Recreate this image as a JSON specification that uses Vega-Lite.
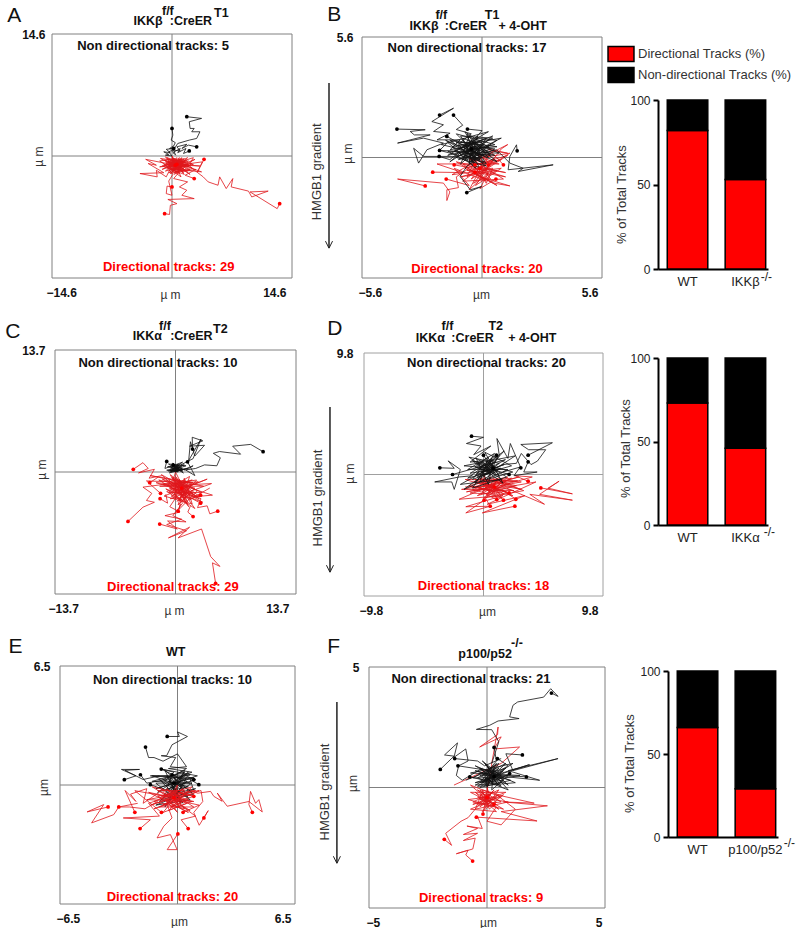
{"$schema":"https://vega.github.io/schema/vega-lite/v6.json","padding":0,"background":"white","bounds":"flush","spacing":0,"columns":6,
"config":{"view":{"stroke":null},"concat":{"spacing":0},"font":"Liberation Sans",
"line":{"strokeWidth":0.8,"clip":false},"point":{"filled":true,"size":14,"opacity":1},"text":{"font":"Liberation Sans","fontWeight":"bold","fontSize":12.5,"color":"#111"},"rule":{"stroke":"#808080","strokeWidth":1},
"axisXQuantitative":{"grid":false,"ticks":false,"domain":false,"labelFont":"Liberation Sans","labelFontWeight":"bold","labelFontSize":12,"labelColor":"#111","labelPadding":9,"labelOverlap":false,"titleFont":"Liberation Sans","titleFontWeight":"normal","titleFontSize":12,"titleColor":"#333","titleY":11},
"axisYQuantitative":{"grid":false,"ticks":false,"domain":false,"labelFont":"Liberation Sans","labelFontWeight":"bold","labelFontSize":12,"labelColor":"#111","labelPadding":7,"labelOverlap":false,"titleFont":"Liberation Sans","titleFontWeight":"normal","titleFontSize":12,"titleColor":"#333"},
"axisXBand":{"title":null,"labelAngle":0,"ticks":false,"domainWidth":2,"domainColor":"#000","labelFont":"Liberation Sans","labelFontSize":13,"labelColor":"#222","labelPadding":6}},
"datasets":{
"Ad":[{"t":1,"x":13.1,"y":-5.7},{"t":1,"x":12.8,"y":-6.3},{"t":1,"x":9.5,"y":-4.3},{"t":1,"x":11.7,"y":-4.2},{"t":1,"x":9.7,"y":-4.9},{"t":1,"x":9.3,"y":-4.2},{"t":1,"x":7.2,"y":-3.7},{"t":1,"x":7.4,"y":-2.7},{"t":1,"x":6.6,"y":-3.9},{"t":1,"x":5.8,"y":-2.5},{"t":1,"x":5.6,"y":-3.5},{"t":1,"x":4.4,"y":-3.1},{"t":1,"x":3.8,"y":-2.5},{"t":1,"x":3,"y":-1.9},{"t":1,"x":1.8,"y":-0.9},{"t":1,"x":0.5,"y":-0.5},
{"t":2,"x":-0.9,"y":-6.9},{"t":2,"x":-0.3,"y":-7},{"t":2,"x":-0.2,"y":-5.9},{"t":2,"x":0.6,"y":-5.7},{"t":2,"x":-0.5,"y":-5.2},{"t":2,"x":2.7,"y":-5.1},{"t":2,"x":1.2,"y":-4.7},{"t":2,"x":1.8,"y":-4.1},{"t":2,"x":0.9,"y":-3.7},{"t":2,"x":1.9,"y":-3.1},{"t":2,"x":0.2,"y":-2.7},{"t":2,"x":0.9,"y":-1.9},{"t":2,"x":0,"y":-1},
{"t":3,"x":2.7,"y":-2.7},{"t":3,"x":1.6,"y":-2.3},{"t":3,"x":2.9,"y":-1.6},{"t":3,"x":1.2,"y":-1.9},{"t":3,"x":2.4,"y":-0.9},{"t":3,"x":0.8,"y":-1.2},{"t":3,"x":1.5,"y":-0.3},{"t":3,"x":0.3,"y":-0.6},
{"t":4,"x":3.9,"y":-0.4},{"t":4,"x":3.1,"y":-1.9},{"t":4,"x":3.7,"y":-0.7},{"t":4,"x":2.2,"y":-0.9},{"t":4,"x":2.6,"y":-0.2},{"t":4,"x":1,"y":-0.7},
{"t":5,"x":0,"y":-3.7},{"t":5,"x":-0.6,"y":-3.6},{"t":5,"x":-0.7,"y":-4.5},{"t":5,"x":0,"y":-4.7},{"t":5,"x":-0.4,"y":-3},{"t":5,"x":0.1,"y":-2.2},{"t":5,"x":-0.5,"y":-1.5},
{"t":6,"x":0.4,"y":-1.1},{"t":6,"x":-3.2,"y":-0.4},{"t":6,"x":-1.9,"y":-1.1},{"t":6,"x":-2.9,"y":-0.9},{"t":6,"x":-1,"y":-2},{"t":6,"x":-3.9,"y":-2.1},{"t":6,"x":-1.8,"y":-2.5},{"t":6,"x":-1.9,"y":-1.7},{"t":6,"x":-0.7,"y":-2.5},{"t":6,"x":0.4,"y":-0.3},{"t":6,"x":-1.5,"y":-0.6},{"t":6,"x":0.9,"y":-2.1},{"t":6,"x":-0.8,"y":-0.1},{"t":6,"x":1.3,"y":-1.8},{"t":6,"x":-0.6,"y":-1.4},{"t":6,"x":1.9,"y":-0.2},{"t":6,"x":-0.2,"y":-2.1},{"t":6,"x":2.5,"y":-1.5},{"t":6,"x":0,"y":-0.2},{"t":6,"x":1.1,"y":-2.5},{"t":6,"x":-1,"y":-1},{"t":6,"x":3.4,"y":-1.2},{"t":6,"x":0.2,"y":-0.9},{"t":6,"x":2.2,"y":-2.2},{"t":6,"x":-0.4,"y":-0.4},{"t":6,"x":3.6,"y":-1.9},{"t":6,"x":0.6,"y":-1.6},{"t":6,"x":2.8,"y":-0.4},{"t":6,"x":-0.3,"y":-1.7},{"t":6,"x":1.7,"y":-1.1},{"t":6,"x":0.1,"y":-0.3},{"t":6,"x":1.4,"y":-2},{"t":6,"x":-0.5,"y":-0.8},{"t":6,"x":2,"y":-0.6},{"t":6,"x":0.3,"y":-1.3},{"t":6,"x":0.9,"y":-0.2},{"t":6,"x":-0.1,"y":-1},{"t":6,"x":1.2,"y":-0.9},{"t":6,"x":0.2,"y":-0.5},{"t":6,"x":0.8,"y":-1.4},{"t":6,"x":0,"y":-0.7},{"t":6,"x":0.6,"y":-0.2},{"t":6,"x":0.5,"y":-1.1},{"t":6,"x":0.1,"y":-1.4},{"t":6,"x":1,"y":-0.6},{"t":6,"x":-0.2,"y":-0.9},{"t":6,"x":0.7,"y":-0.9},{"t":6,"x":0.4,"y":-1.7},{"t":6,"x":0.9,"y":-0.4},{"t":6,"x":0.4,"y":-0.8},{"t":6,"x":-1.2,"y":-1.6},{"t":6,"x":1.6,"y":-0.7},{"t":6,"x":-1.4,"y":-0.3},{"t":6,"x":1.1,"y":-1.5},{"t":6,"x":-0.8,"y":-0.7},{"t":6,"x":2.1,"y":-1.3},{"t":6,"x":-0.3,"y":-1.2},{"t":6,"x":1.3,"y":-0.4},{"t":6,"x":0,"y":-1.9},{"t":6,"x":0.9,"y":-0.7},{"t":6,"x":-0.6,"y":-0.2},{"t":6,"x":1.5,"y":-1.6},{"t":6,"x":0.2,"y":-0.7},{"t":6,"x":0,"y":0},
{"t":7,"x":0.6,"y":-1},{"t":7,"x":-0.9,"y":-0.5},{"t":7,"x":2.2,"y":-1.6},{"t":7,"x":-0.4,"y":-2},{"t":7,"x":1.8,"y":-0.5},{"t":7,"x":-1.2,"y":-1.2},{"t":7,"x":1.5,"y":-2.2},{"t":7,"x":-0.1,"y":-0.4},{"t":7,"x":2.6,"y":-1},{"t":7,"x":-0.8,"y":-1.8},{"t":7,"x":1,"y":-0.3},{"t":7,"x":0.3,"y":-2.2},{"t":7,"x":2,"y":-1},{"t":7,"x":-1.5,"y":-1.3},{"t":7,"x":1.4,"y":-0.6},{"t":7,"x":0.5,"y":-1.9},{"t":7,"x":-0.5,"y":-0.6},{"t":7,"x":1.9,"y":-1.8},{"t":7,"x":-0.2,"y":-1.4},{"t":7,"x":1.2,"y":-0.2},{"t":7,"x":0.7,"y":-2.1},{"t":7,"x":-0.7,"y":-0.9},{"t":7,"x":1.6,"y":-1.3},{"t":7,"x":0,"y":-0.5},{"t":7,"x":1.1,"y":-1.8},{"t":7,"x":-0.4,"y":-1.1},{"t":7,"x":1.3,"y":-0.8},{"t":7,"x":0.2,"y":-1.7},{"t":7,"x":0.9,"y":-1.1},{"t":7,"x":0.1,"y":-0.6},{"t":7,"x":1.1,"y":-0.4},{"t":7,"x":0.4,"y":-1.4},{"t":7,"x":-0.2,"y":-0.6},{"t":7,"x":0.8,"y":-1.7},{"t":7,"x":0.6,"y":-0.6},{"t":7,"x":0.3,"y":-1},{"t":7,"x":1,"y":-1.3},{"t":7,"x":0.5,"y":-0.4},{"t":7,"x":-0.1,"y":-1.2},{"t":7,"x":0.7,"y":-1.3},{"t":7,"x":0.2,"y":-0.8},{"t":7,"x":0.9,"y":-0.9},{"t":7,"x":0.4,"y":-0.6},{"t":7,"x":0,"y":0}],
"An":[{"t":1,"x":1.8,"y":4.7},{"t":1,"x":3.6,"y":4.5},{"t":1,"x":2.1,"y":4.1},{"t":1,"x":2.2,"y":3.3},{"t":1,"x":2.7,"y":3.3},{"t":1,"x":2.4,"y":2.9},{"t":1,"x":3.4,"y":2.9},{"t":1,"x":3,"y":2.1},{"t":1,"x":2.1,"y":1.9},{"t":1,"x":0.7,"y":1.5},{"t":1,"x":0.3,"y":0.9},{"t":1,"x":0,"y":0.5},
{"t":2,"x":0,"y":3.3},{"t":2,"x":0.1,"y":2.5},{"t":2,"x":-0.1,"y":1.9},{"t":2,"x":0.4,"y":1.6},{"t":2,"x":0.2,"y":1.2},{"t":2,"x":-0.3,"y":0.9},{"t":2,"x":0.3,"y":0.8},{"t":2,"x":-0.4,"y":0.5},{"t":2,"x":0,"y":0},
{"t":3,"x":3,"y":1.1},{"t":3,"x":2,"y":1.3},{"t":3,"x":1.2,"y":0.9},{"t":3,"x":1.8,"y":1.4},{"t":3,"x":0.6,"y":1.1},{"t":3,"x":1,"y":0.6},{"t":3,"x":0.2,"y":0.7},{"t":3,"x":0.4,"y":0.2},
{"t":4,"x":2.1,"y":0.6},{"t":4,"x":1.4,"y":0.3},{"t":4,"x":1.7,"y":0.9},{"t":4,"x":0.7,"y":0.4},{"t":4,"x":1,"y":0.9},{"t":4,"x":0.1,"y":0.4},{"t":4,"x":0.5,"y":0.1},
{"t":5,"x":0.2,"y":0.9},{"t":5,"x":-0.7,"y":0.8},{"t":5,"x":-0.2,"y":0.4},{"t":5,"x":-1,"y":0.5},{"t":5,"x":-0.4,"y":0.2},{"t":5,"x":-0.8,"y":0.1},{"t":5,"x":0,"y":0}],
"Bd":[{"t":1,"x":-2.65,"y":-1.32},{"t":1,"x":-3.94,"y":-1},{"t":1,"x":-1.8,"y":-1.19},{"t":1,"x":-1.5,"y":-1.6},{"t":1,"x":-1.64,"y":-2},{"t":1,"x":-1.64,"y":-1.5},{"t":1,"x":-1.1,"y":-1.4},{"t":1,"x":-1.2,"y":-0.9},{"t":1,"x":-0.6,"y":-0.5},
{"t":2,"x":-2.3,"y":-0.68},{"t":2,"x":-0.9,"y":-0.7},{"t":2,"x":-2.1,"y":-0.3},{"t":2,"x":0.8,"y":-0.3},{"t":2,"x":-0.6,"y":-0.1},{"t":2,"x":1.3,"y":0.2},{"t":2,"x":-0.3,"y":-0.8},{"t":2,"x":0.6,"y":-1.2},{"t":2,"x":1.3,"y":-1.32},{"t":2,"x":-0.1,"y":-0.9},{"t":2,"x":0.9,"y":0.4},{"t":2,"x":1.2,"y":0.6},{"t":2,"x":0,"y":0},
{"t":3,"x":-1.67,"y":-1},{"t":3,"x":-0.6,"y":-1.3},{"t":3,"x":-1.3,"y":-0.5},{"t":3,"x":0.2,"y":-1.1},{"t":3,"x":-0.9,"y":-0.3},{"t":3,"x":1.1,"y":-0.9},{"t":3,"x":-0.5,"y":-0.6},{"t":3,"x":0.9,"y":-0.1},{"t":3,"x":-0.2,"y":-0.3},
{"t":4,"x":-1.3,"y":-0.34},{"t":4,"x":0.1,"y":-0.6},{"t":4,"x":-1,"y":-0.9},{"t":4,"x":0.7,"y":-0.6},{"t":4,"x":-0.4,"y":-1.2},{"t":4,"x":0.5,"y":-0.2},{"t":4,"x":-0.2,"y":0.1},
{"t":5,"x":0.65,"y":-1},{"t":5,"x":-0.1,"y":-1.45},{"t":5,"x":0.3,"y":-0.7},{"t":5,"x":-0.6,"y":-1.5},{"t":5,"x":0,"y":-0.4},
{"t":6,"x":1,"y":-0.34},{"t":6,"x":0.3,"y":0.4},{"t":6,"x":1.2,"y":0.2},{"t":6,"x":0.5,"y":0.3},{"t":6,"x":0.2,"y":-0.1},
{"t":7,"x":0.3,"y":-0.34},{"t":7,"x":-0.2,"y":-0.9},{"t":7,"x":0.4,"y":-1},{"t":7,"x":-0.1,"y":-0.3},
{"t":8,"x":-0.33,"y":-0.68},{"t":8,"x":-0.7,"y":-0.9},{"t":8,"x":-0.4,"y":-0.3},
{"t":9,"x":-0.33,"y":-0.34},{"t":9,"x":0.3,"y":-0.2},{"t":9,"x":0,"y":0},
{"t":10,"x":-0.1,"y":-0.5},{"t":10,"x":1.1,"y":-0.7},{"t":10,"x":-1.2,"y":-0.2},{"t":10,"x":0.7,"y":-1.3},{"t":10,"x":-0.8,"y":-0.5},{"t":10,"x":1.2,"y":0.1},{"t":10,"x":-0.5,"y":-1},{"t":10,"x":0.4,"y":0.2},{"t":10,"x":-1.4,"y":-0.8},{"t":10,"x":0.9,"y":-0.5},{"t":10,"x":-0.3,"y":-1.3},{"t":10,"x":0.6,"y":0},{"t":10,"x":-0.9,"y":-1.1},{"t":10,"x":1,"y":-1},{"t":10,"x":-0.6,"y":0},{"t":10,"x":0.2,"y":-1.2},{"t":10,"x":0.5,"y":-0.5},{"t":10,"x":-0.7,"y":-0.6},{"t":10,"x":0.3,"y":-0.8},{"t":10,"x":-0.2,"y":0.2},{"t":10,"x":0,"y":0}],
"Bn":[{"t":1,"x":-3.97,"y":1.32},{"t":1,"x":-2.65,"y":1.29},{"t":1,"x":-3.35,"y":1.21},{"t":1,"x":-3.16,"y":1.05},{"t":1,"x":-2.42,"y":1.05},{"t":1,"x":-3.94,"y":0.67},{"t":1,"x":-2.73,"y":0.9},{"t":1,"x":-1.8,"y":0.67},{"t":1,"x":-2.57,"y":0.36},{"t":1,"x":-2.96,"y":-0.26},{"t":1,"x":-3.19,"y":0.43},{"t":1,"x":-2.73,"y":0.05},{"t":1,"x":-1.18,"y":0.05},{"t":1,"x":-0.6,"y":0.2},
{"t":2,"x":-1.98,"y":1.97},{"t":2,"x":-1.33,"y":2.29},{"t":2,"x":-2.34,"y":1.67},{"t":2,"x":-1.8,"y":1.52},{"t":2,"x":-2.26,"y":1.21},{"t":2,"x":-1.49,"y":1.13},{"t":2,"x":-2.1,"y":0.82},{"t":2,"x":-1.02,"y":0.82},{"t":2,"x":-1.49,"y":0.36},{"t":2,"x":-0.71,"y":0.51},
{"t":3,"x":1.64,"y":0.31},{"t":3,"x":1.61,"y":0.59},{"t":3,"x":1.3,"y":0.05},{"t":3,"x":1.22,"y":-0.57},{"t":3,"x":3.32,"y":-0.34},{"t":3,"x":1.69,"y":-0.65},{"t":3,"x":1.92,"y":-0.5},{"t":3,"x":1.3,"y":-0.26},{"t":3,"x":0.68,"y":0.36},{"t":3,"x":0.06,"y":0.2},
{"t":4,"x":-0.71,"y":-1.63},{"t":4,"x":-0.02,"y":-1.35},{"t":4,"x":-0.55,"y":-1.5},{"t":4,"x":-1.02,"y":-0.88},{"t":4,"x":-0.7,"y":-0.4},{"t":4,"x":-0.3,"y":-0.1},
{"t":5,"x":-1.64,"y":0.98},{"t":5,"x":-0.2,"y":0.2},{"t":5,"x":-1.9,"y":0.6},{"t":5,"x":0.3,"y":1.2},{"t":5,"x":-1.6,"y":0.1},{"t":5,"x":0.6,"y":0.6},{"t":5,"x":-1.2,"y":1.1},{"t":5,"x":0.1,"y":-0.2},{"t":5,"x":-1.98,"y":0.33},{"t":5,"x":0.8,"y":0.2},{"t":5,"x":-0.9,"y":0.9},{"t":5,"x":-0.3,"y":-0.5},{"t":5,"x":-1.4,"y":0.5},{"t":5,"x":0.9,"y":0.9},{"t":5,"x":-1.1,"y":-0.1},{"t":5,"x":0.4,"y":0.4},{"t":5,"x":-0.8,"y":1.2},{"t":5,"x":-0.1,"y":-0.1},{"t":5,"x":-1.7,"y":0.8},{"t":5,"x":0.7,"y":-0.2},{"t":5,"x":-0.5,"y":0.8},{"t":5,"x":-1,"y":-0.3},{"t":5,"x":0.5,"y":1},{"t":5,"x":-1.3,"y":0.3},{"t":5,"x":0.2,"y":-0.3},{"t":5,"x":-0.6,"y":1},{"t":5,"x":-0.9,"y":0.2},{"t":5,"x":0.6,"y":0.1},{"t":5,"x":-1.2,"y":0.7},{"t":5,"x":0,"y":0.7},{"t":5,"x":-0.7,"y":-0.1},{"t":5,"x":0.3,"y":0.3},{"t":5,"x":-0.4,"y":0.5},{"t":5,"x":-1.5,"y":-0.2},{"t":5,"x":-0.2,"y":0.9},{"t":5,"x":-0.8,"y":0.4},{"t":5,"x":0.1,"y":0.1},{"t":5,"x":-0.5,"y":0.1},{"t":5,"x":-0.3,"y":0.6},{"t":5,"x":-0.7,"y":0.6},{"t":5,"x":-0.1,"y":0.3},{"t":5,"x":-0.5,"y":-0.2},{"t":5,"x":0,"y":0},
{"t":6,"x":-1.33,"y":1.97},{"t":6,"x":-0.9,"y":1.5},{"t":6,"x":-1.2,"y":1.3},{"t":6,"x":-0.5,"y":1.1},{"t":6,"x":-1,"y":0.7},{"t":6,"x":-0.2,"y":0.6},{"t":6,"x":-0.8,"y":0.1},{"t":6,"x":-0.1,"y":-0.1},{"t":6,"x":-1.1,"y":0.4},{"t":6,"x":0.2,"y":0.9},{"t":6,"x":-0.6,"y":-0.3},{"t":6,"x":-0.4,"y":0.7},{"t":6,"x":-0.9,"y":-0.1},{"t":6,"x":0.4,"y":0.6},{"t":6,"x":-0.2,"y":0.1},{"t":6,"x":0,"y":0},
{"t":7,"x":-0.68,"y":1.32},{"t":7,"x":0,"y":1.25},{"t":7,"x":-0.3,"y":0.9},{"t":7,"x":0.7,"y":0.8},{"t":7,"x":0.1,"y":0.4},
{"t":8,"x":-1.98,"y":0.33},{"t":8,"x":-1.6,"y":0.7},{"t":8,"x":-1,"y":0.2},
{"t":9,"x":-2,"y":0.05},{"t":9,"x":-1.5,"y":-0.1},{"t":9,"x":-1,"y":0.3},
{"t":10,"x":-0.5,"y":0.4},{"t":10,"x":0.7,"y":0.5},{"t":10,"x":-1.5,"y":0.8},{"t":10,"x":0.2,"y":-0.4},{"t":10,"x":-1.2,"y":0},{"t":10,"x":0.5,"y":0.9},{"t":10,"x":-1,"y":1},{"t":10,"x":-0.1,"y":-0.5},{"t":10,"x":-1.6,"y":0.3},{"t":10,"x":0.4,"y":0.1},{"t":10,"x":-0.7,"y":1.1},{"t":10,"x":-0.3,"y":-0.3},{"t":10,"x":-1.1,"y":0.6},{"t":10,"x":0.6,"y":0.4},{"t":10,"x":-0.6,"y":-0.2},{"t":10,"x":-0.2,"y":1},{"t":10,"x":-0.9,"y":0.5},{"t":10,"x":0.3,"y":0},{"t":10,"x":-0.4,"y":0.8},{"t":10,"x":-0.8,"y":-0.1},{"t":10,"x":0.1,"y":0.6},{"t":10,"x":-0.6,"y":0.3},{"t":10,"x":-0.1,"y":0.4},{"t":10,"x":-0.4,"y":0},{"t":10,"x":0,"y":0}],
"Cd":[{"t":1,"x":4.56,"y":-12.5},{"t":1,"x":4.2,"y":-10.2},{"t":1,"x":5.05,"y":-10.6},{"t":1,"x":4,"y":-9.5},{"t":1,"x":2.96,"y":-6.4},{"t":1,"x":0.3,"y":-7.4},{"t":1,"x":1.6,"y":-6.2},{"t":1,"x":-0.8,"y":-7.4},{"t":1,"x":1.25,"y":-6.6},{"t":1,"x":-1,"y":-5.9},{"t":1,"x":0.7,"y":-5.3},{"t":1,"x":-1.2,"y":-4.9},{"t":1,"x":0.5,"y":-4.5},{"t":1,"x":-0.65,"y":-3.9},{"t":1,"x":0.1,"y":-2.8},{"t":1,"x":0,"y":-1.2},
{"t":2,"x":-5.4,"y":-5.55},{"t":2,"x":-3.7,"y":-3.95},{"t":2,"x":-2.4,"y":-3.4},{"t":2,"x":-3.3,"y":-3.2},{"t":2,"x":-2.7,"y":-2.4},{"t":2,"x":-3.7,"y":-1.7},{"t":2,"x":-0.65,"y":-1.3},
{"t":3,"x":-1.8,"y":-5.85},{"t":3,"x":0.2,"y":-6.4},{"t":3,"x":-0.9,"y":-5.5},{"t":3,"x":1.2,"y":-5.6},{"t":3,"x":-0.3,"y":-4.9},{"t":3,"x":0.8,"y":-3.5},{"t":3,"x":-0.3,"y":-2.2},
{"t":4,"x":4.8,"y":-4.4},{"t":4,"x":3.9,"y":-4.7},{"t":4,"x":3.6,"y":-3.8},{"t":4,"x":2.5,"y":-4},{"t":4,"x":2.9,"y":-3},{"t":4,"x":1.5,"y":-2.5},
{"t":5,"x":-4.8,"y":0.3},{"t":5,"x":-3.7,"y":1.05},{"t":5,"x":-3.1,"y":0.4},{"t":5,"x":-4.2,"y":-0.1},{"t":5,"x":-2.4,"y":0.3},{"t":5,"x":-3,"y":-0.7},{"t":5,"x":-1.5,"y":-0.4},
{"t":6,"x":-1.7,"y":-2.4},{"t":6,"x":-3.3,"y":-1},{"t":6,"x":2,"y":-1.2},{"t":6,"x":-2.9,"y":-0.4},{"t":6,"x":3.2,"y":-1.6},{"t":6,"x":-1.8,"y":-1.6},{"t":6,"x":4.1,"y":-1.3},{"t":6,"x":-0.6,"y":-3},{"t":6,"x":4.2,"y":-2.6},{"t":6,"x":-1.5,"y":-0.8},{"t":6,"x":3.1,"y":-3.4},{"t":6,"x":-1.1,"y":-1.9},{"t":6,"x":2.2,"y":-4.1},{"t":6,"x":-0.3,"y":-0.6},{"t":6,"x":2.5,"y":-2.1},{"t":6,"x":0.4,"y":-4.2},{"t":6,"x":1,"y":-0.7},{"t":6,"x":1.9,"y":-3.6},{"t":6,"x":-1.3,"y":-2.7},{"t":6,"x":3.6,"y":-0.8},{"t":6,"x":0.3,"y":-2.1},{"t":6,"x":1.5,"y":-3.9},{"t":6,"x":-0.6,"y":-0.3},{"t":6,"x":2.8,"y":-2.8},{"t":6,"x":-2.2,"y":-1.2},{"t":6,"x":1.7,"y":-1.6},{"t":6,"x":0.2,"y":-3.3},{"t":6,"x":2.4,"y":-0.9},{"t":6,"x":-0.9,"y":-1.4},{"t":6,"x":1.2,"y":-3},{"t":6,"x":0.7,"y":-1.1},{"t":6,"x":-0.2,"y":-2.6},{"t":6,"x":2,"y":-2.4},{"t":6,"x":0.5,"y":-1.7},{"t":6,"x":1.3,"y":-2.2},{"t":6,"x":-0.7,"y":-1.8},{"t":6,"x":0.9,"y":-2.7},{"t":6,"x":1.6,"y":-0.5},{"t":6,"x":-0.1,"y":-1.5},{"t":6,"x":1,"y":-1.9},{"t":6,"x":0.1,"y":-0.9},{"t":6,"x":1.4,"y":-3.4},{"t":6,"x":0.6,"y":-2.4},{"t":6,"x":-1.6,"y":-0.3},{"t":6,"x":-0.3,"y":-1},{"t":6,"x":0,"y":0},
{"t":7,"x":-1.75,"y":-3},{"t":7,"x":-0.9,"y":-3.5},{"t":7,"x":-1.1,"y":-2.5},
{"t":8,"x":2.85,"y":-2.6},{"t":8,"x":1.6,"y":-3.1},{"t":8,"x":3.9,"y":-1.8},
{"t":9,"x":-2.93,"y":-1.2},{"t":9,"x":-2,"y":-0.6},
{"t":10,"x":0.3,"y":-4.4},{"t":10,"x":0.6,"y":-3.6},
{"t":11,"x":2,"y":-5},{"t":11,"x":1.4,"y":-4.5},{"t":11,"x":1.7,"y":-3.8},
{"t":12,"x":2.85,"y":-3.5},{"t":12,"x":1.9,"y":-3},
{"t":13,"x":0.7,"y":-1.8},{"t":13,"x":-1.4,"y":-1.4},{"t":13,"x":2.6,"y":-1.1},{"t":13,"x":-0.8,"y":-2.3},{"t":13,"x":3,"y":-2.3},{"t":13,"x":-0.2,"y":-0.9},{"t":13,"x":1.7,"y":-3.1},{"t":13,"x":-1.9,"y":-0.9},{"t":13,"x":2.2,"y":-1.8},{"t":13,"x":0.3,"y":-3.7},{"t":13,"x":1.1,"y":-0.9},{"t":13,"x":-0.6,"y":-1.6},{"t":13,"x":2.7,"y":-3},{"t":13,"x":0.1,"y":-1.3},{"t":13,"x":1.9,"y":-0.9},{"t":13,"x":-1,"y":-2.2},{"t":13,"x":1.3,"y":-3.6},{"t":13,"x":-0.4,"y":-0.6},{"t":13,"x":2.3,"y":-2.7},{"t":13,"x":0.5,"y":-1.2},{"t":13,"x":1.4,"y":-1.9},{"t":13,"x":-0.5,"y":-2.7},{"t":13,"x":0.9,"y":-3.2},{"t":13,"x":1.8,"y":-1.3},{"t":13,"x":0.2,"y":-2.4},{"t":13,"x":1.1,"y":-1.5},{"t":13,"x":-0.3,"y":-1.9},{"t":13,"x":1.6,"y":-2.7},{"t":13,"x":0.4,"y":-0.8},{"t":13,"x":0.8,"y":-2.2},{"t":13,"x":-0.8,"y":-0.9},{"t":13,"x":0.3,"y":-1.6},{"t":13,"x":1.2,"y":-2.5},{"t":13,"x":0,"y":-0.5},{"t":13,"x":0.7,"y":-1.4},{"t":13,"x":0,"y":0}],
"Cn":[{"t":1,"x":9.96,"y":2.28},{"t":1,"x":8.55,"y":3.1},{"t":1,"x":6.5,"y":2.9},{"t":1,"x":7.4,"y":2},{"t":1,"x":5,"y":2.3},{"t":1,"x":4.3,"y":2.1},{"t":1,"x":5.1,"y":1.6},{"t":1,"x":4.7,"y":0.7},{"t":1,"x":3.3,"y":0.8},{"t":1,"x":2.3,"y":0.4},{"t":1,"x":1,"y":0.2},
{"t":2,"x":1.94,"y":2.58},{"t":2,"x":1.9,"y":3.9},{"t":2,"x":3.1,"y":3.5},{"t":2,"x":1.6,"y":2.9},{"t":2,"x":3.3,"y":3},{"t":2,"x":2.2,"y":1.8},{"t":2,"x":1.7,"y":3.4},{"t":2,"x":1.5,"y":1.3},{"t":2,"x":2.9,"y":3.7},{"t":2,"x":2,"y":1.5},{"t":2,"x":0.6,"y":0.8},
{"t":3,"x":1.37,"y":1.14},{"t":3,"x":2.2,"y":-0.4},{"t":3,"x":1.2,"y":0.2},{"t":3,"x":2,"y":0.7},{"t":3,"x":0.5,"y":0.1},
{"t":4,"x":-1,"y":1.18},{"t":4,"x":-1.2,"y":0.4},{"t":4,"x":0.8,"y":1.1},{"t":4,"x":-0.6,"y":0.1},{"t":4,"x":1.2,"y":0.7},{"t":4,"x":-0.8,"y":0.9},{"t":4,"x":0.9,"y":-0.1},{"t":4,"x":-0.3,"y":1},{"t":4,"x":0.3,"y":0},{"t":4,"x":-1,"y":0.2},{"t":4,"x":0.7,"y":0.6},{"t":4,"x":-0.5,"y":0.5},{"t":4,"x":0.4,"y":0.8},{"t":4,"x":-0.2,"y":0.1},{"t":4,"x":1.4,"y":0.4},{"t":4,"x":-0.7,"y":-0.1},{"t":4,"x":0.2,"y":0.6},{"t":4,"x":0.9,"y":0.3},{"t":4,"x":-0.4,"y":0.2},{"t":4,"x":0.6,"y":0.2},{"t":4,"x":0,"y":0},
{"t":5,"x":-0.27,"y":0.8},{"t":5,"x":0.4,"y":0.4},{"t":5,"x":-0.6,"y":0.3},{"t":5,"x":1,"y":0.8},{"t":5,"x":-0.9,"y":0.6},{"t":5,"x":0.8,"y":0.1},{"t":5,"x":-0.4,"y":0.7},{"t":5,"x":0.5,"y":0.5},{"t":5,"x":-0.8,"y":0.1},{"t":5,"x":1.1,"y":0.3},{"t":5,"x":-0.1,"y":0.4},{"t":5,"x":0.3,"y":0.9},{"t":5,"x":-0.5,"y":0},{"t":5,"x":0.7,"y":0.4},{"t":5,"x":0,"y":0}],
"Dd":[{"t":1,"x":0.05,"y":-2.07},{"t":1,"x":-1.45,"y":-3.1},{"t":1,"x":0.55,"y":-2.56},{"t":1,"x":-1.45,"y":-2.6},{"t":1,"x":1.6,"y":-1.7},{"t":1,"x":-2,"y":-2},{"t":1,"x":0.6,"y":-0.9},{"t":1,"x":-1.5,"y":-1},
{"t":2,"x":4.7,"y":-1.08},{"t":2,"x":7.29,"y":-1.56},{"t":2,"x":5.3,"y":-1.1},{"t":2,"x":6.2,"y":-0.54},{"t":2,"x":4.6,"y":-1.6},{"t":2,"x":7.29,"y":-2.07},{"t":2,"x":3.8,"y":-1.6},{"t":2,"x":5,"y":-2.4},{"t":2,"x":1.9,"y":-1.1},
{"t":3,"x":2.57,"y":-2.56},{"t":3,"x":-0.1,"y":-3.1},{"t":3,"x":3.4,"y":-1.7},{"t":3,"x":0.3,"y":-2.4},{"t":3,"x":4.3,"y":-0.6},{"t":3,"x":0.8,"y":-1.2},
{"t":4,"x":3.66,"y":-0.54},{"t":4,"x":2.6,"y":-0.1},{"t":4,"x":4,"y":-0.2},{"t":4,"x":1.4,"y":-0.9},{"t":4,"x":3.1,"y":-1.2},{"t":4,"x":0.3,"y":-0.4},
{"t":5,"x":2.1,"y":-1.48},{"t":5,"x":-1.5,"y":-0.4},{"t":5,"x":2.8,"y":-0.5},{"t":5,"x":-1.8,"y":-1.2},{"t":5,"x":2.5,"y":-1.3},{"t":5,"x":-0.8,"y":-0.6},{"t":5,"x":2.3,"y":-0.3},{"t":5,"x":-0.5,"y":-1.7},{"t":5,"x":2.7,"y":-0.9},{"t":5,"x":-0.3,"y":-0.3},{"t":5,"x":1.7,"y":-1.6},{"t":5,"x":-1.1,"y":-1.5},{"t":5,"x":1.9,"y":-0.5},{"t":5,"x":0.2,"y":-1.9},{"t":5,"x":1.2,"y":-0.3},{"t":5,"x":-0.7,"y":-1},{"t":5,"x":1.3,"y":-1.5},{"t":5,"x":0.1,"y":-0.7},{"t":5,"x":1,"y":-1.8},{"t":5,"x":0.6,"y":-0.5},{"t":5,"x":-0.1,"y":-1.4},{"t":5,"x":0.9,"y":-0.8},{"t":5,"x":0.3,"y":-1.3},{"t":5,"x":0,"y":0},
{"t":6,"x":1.09,"y":-2.02},{"t":6,"x":0.2,"y":-1.6},{"t":6,"x":0.8,"y":-1.1},
{"t":7,"x":1.64,"y":-2.07},{"t":7,"x":1,"y":-1.5},
{"t":8,"x":0.55,"y":-2.56},{"t":8,"x":0.1,"y":-1.8},
{"t":9,"x":2.65,"y":-2},{"t":9,"x":1.5,"y":-1.2},
{"t":10,"x":0.9,"y":-1},{"t":10,"x":-1.4,"y":-1.4},{"t":10,"x":3.1,"y":-0.6},{"t":10,"x":-0.7,"y":-0.4},{"t":10,"x":2.4,"y":-1.7},{"t":10,"x":-1.2,"y":-0.9},{"t":10,"x":2,"y":-0.2},{"t":10,"x":0,"y":-1.9},{"t":10,"x":3.3,"y":-1.3},{"t":10,"x":0.5,"y":-0.2},{"t":10,"x":1.5,"y":-1.9},{"t":10,"x":-0.9,"y":-1.2},{"t":10,"x":2.9,"y":-0.2},{"t":10,"x":0.3,"y":-0.9},{"t":10,"x":1.9,"y":-1.4},{"t":10,"x":-0.4,"y":-1.1},{"t":10,"x":1.6,"y":-0.4},{"t":10,"x":0.7,"y":-1.6},{"t":10,"x":-0.2,"y":-0.6},{"t":10,"x":1.2,"y":-1.1},{"t":10,"x":2.2,"y":-0.7},{"t":10,"x":0.4,"y":-1.4},{"t":10,"x":1.1,"y":-0.5},{"t":10,"x":0.6,"y":-1.1},{"t":10,"x":0,"y":0}],
"Dn":[{"t":1,"x":-0.98,"y":3.09},{"t":1,"x":0,"y":3},{"t":1,"x":-1.4,"y":2.5},{"t":1,"x":-0.2,"y":2.3},{"t":1,"x":-0.8,"y":1.6},{"t":1,"x":0.6,"y":2.3},{"t":1,"x":-1.1,"y":1},{"t":1,"x":0,"y":1.1},{"t":1,"x":-0.6,"y":0.5},
{"t":2,"x":-3.58,"y":0.54},{"t":2,"x":-2.4,"y":0.5},{"t":2,"x":-2.9,"y":1.1},{"t":2,"x":-1.9,"y":0.4},{"t":2,"x":-2.4,"y":-1.2},{"t":2,"x":-2.6,"y":-0.6},{"t":2,"x":-4,"y":-0.6},{"t":2,"x":-2,"y":-0.2},{"t":2,"x":-0.9,"y":-0.1},
{"t":3,"x":3.66,"y":1.56},{"t":3,"x":5.65,"y":2.56},{"t":3,"x":3.06,"y":2.42},{"t":3,"x":3.7,"y":2},{"t":3,"x":5.1,"y":2},{"t":3,"x":4.42,"y":1.08},{"t":3,"x":3.9,"y":0.8},{"t":3,"x":3.1,"y":1.7},{"t":3,"x":2.7,"y":0.9},{"t":3,"x":1.5,"y":0.8},
{"t":4,"x":3.66,"y":1.02},{"t":4,"x":3.3,"y":0.2},{"t":4,"x":4.4,"y":0.2},{"t":4,"x":2.5,"y":-0.1},{"t":4,"x":3,"y":0.6},{"t":4,"x":1.6,"y":0.2},
{"t":5,"x":3.06,"y":0.54},{"t":5,"x":2.2,"y":2.5},{"t":5,"x":2,"y":1.3},{"t":5,"x":1.1,"y":2.9},{"t":5,"x":1.3,"y":1.5},{"t":5,"x":0.6,"y":0.6},
{"t":6,"x":-2.54,"y":0},{"t":6,"x":1.8,"y":1.2},{"t":6,"x":-1.9,"y":-0.8},{"t":6,"x":1.5,"y":-0.4},{"t":6,"x":-1.2,"y":1.4},{"t":6,"x":1.3,"y":0.9},{"t":6,"x":-1.6,"y":-1.2},{"t":6,"x":2,"y":0.4},{"t":6,"x":-1.3,"y":0.4},{"t":6,"x":0.9,"y":1.7},{"t":6,"x":-0.9,"y":-1.1},{"t":6,"x":1.9,"y":-0.2},{"t":6,"x":-0.6,"y":1.3},{"t":6,"x":0.4,"y":-0.8},{"t":6,"x":0.8,"y":1.2},{"t":6,"x":-1.1,"y":0.1},{"t":6,"x":1.4,"y":0.5},{"t":6,"x":-0.3,"y":-0.6},{"t":6,"x":0.4,"y":1.4},{"t":6,"x":-0.7,"y":0.6},{"t":6,"x":1,"y":0.1},{"t":6,"x":0,"y":0.8},{"t":6,"x":-0.9,"y":-0.4},{"t":6,"x":1.2,"y":0.4},{"t":6,"x":-0.2,"y":0.2},{"t":6,"x":0.6,"y":0.9},{"t":6,"x":-0.5,"y":-0.2},{"t":6,"x":0.5,"y":0.1},{"t":6,"x":0,"y":0},
{"t":7,"x":0,"y":1.56},{"t":7,"x":0.7,"y":0.5},{"t":7,"x":-0.4,"y":0.9},
{"t":8,"x":1.06,"y":1.56},{"t":8,"x":0.2,"y":1},{"t":8,"x":1,"y":0.6},
{"t":9,"x":2.1,"y":0},{"t":9,"x":1.1,"y":0.3},
{"t":10,"x":0.8,"y":0.5},{"t":10,"x":-1.6,"y":0.7},{"t":10,"x":2.6,"y":1.5},{"t":10,"x":-0.7,"y":-0.6},{"t":10,"x":1.7,"y":1.9},{"t":10,"x":-1.3,"y":-0.3},{"t":10,"x":2.3,"y":0.7},{"t":10,"x":0.1,"y":1.8},{"t":10,"x":1.6,"y":-0.7},{"t":10,"x":-0.9,"y":1.1},{"t":10,"x":2.4,"y":0.2},{"t":10,"x":0.3,"y":-0.4},{"t":10,"x":1.2,"y":1.5},{"t":10,"x":-0.6,"y":0},{"t":10,"x":1.7,"y":0.8},{"t":10,"x":0.2,"y":0.3},{"t":10,"x":0.7,"y":1.3},{"t":10,"x":-0.4,"y":0.5},{"t":10,"x":1.3,"y":-0.1},{"t":10,"x":0.5,"y":1},{"t":10,"x":0.9,"y":0.3},{"t":10,"x":0.1,"y":0.6},{"t":10,"x":0.6,"y":0.2},{"t":10,"x":0,"y":0}],
"Ed":[{"t":1,"x":4.14,"y":-1.49},{"t":1,"x":3.95,"y":-1.07},{"t":1,"x":4.04,"y":-0.35},{"t":1,"x":4.32,"y":-1},{"t":1,"x":4.5,"y":-0.8},{"t":1,"x":4.69,"y":-1.47},{"t":1,"x":3.95,"y":-0.9},{"t":1,"x":2.75,"y":-1.16},{"t":1,"x":2.2,"y":-0.44},{"t":1,"x":2.47,"y":-0.89},{"t":1,"x":2.01,"y":-0.62},{"t":1,"x":1.83,"y":-0.35},{"t":1,"x":1.1,"y":-0.45},{"t":1,"x":0.6,"y":-0.2},
{"t":2,"x":-3.84,"y":-1.2},{"t":2,"x":-5,"y":-1.47},{"t":2,"x":-4.08,"y":-1.07},{"t":2,"x":-4.75,"y":-2.07},{"t":2,"x":-3.53,"y":-1.62},{"t":2,"x":-3.25,"y":-1.2},{"t":2,"x":-2.66,"y":-1.2},{"t":2,"x":-1.8,"y":-1.3},{"t":2,"x":-1.1,"y":-0.9},
{"t":3,"x":0.02,"y":-2.67},{"t":3,"x":-0.57,"y":-3.53},{"t":3,"x":-0.02,"y":-3.53},{"t":3,"x":-0.39,"y":-2.71},{"t":3,"x":-1.13,"y":-2.89},{"t":3,"x":-0.76,"y":-2.25},{"t":3,"x":-0.3,"y":-1.8},{"t":3,"x":-0.6,"y":-1},
{"t":4,"x":-2.36,"y":-1.49},{"t":4,"x":-2.9,"y":-0.3},{"t":4,"x":-2.3,"y":-0.9},{"t":4,"x":-2.6,"y":-0.5},{"t":4,"x":-1.7,"y":-0.2},{"t":4,"x":-1.9,"y":-1},{"t":4,"x":-1,"y":-0.4},
{"t":5,"x":-2.07,"y":-2.38},{"t":5,"x":-1.5,"y":-1.9},{"t":5,"x":-3,"y":-1.8},{"t":5,"x":-1,"y":-1.7},{"t":5,"x":-1.6,"y":-1},{"t":5,"x":-0.4,"y":-0.6},
{"t":6,"x":1.46,"y":-1.8},{"t":6,"x":1.7,"y":-1.4},{"t":6,"x":1.2,"y":-2.2},{"t":6,"x":0.9,"y":-1.5},{"t":6,"x":1.4,"y":-0.9},{"t":6,"x":1.3,"y":-0.3},{"t":6,"x":0.5,"y":-0.6},
{"t":7,"x":0.59,"y":-2.38},{"t":7,"x":0.2,"y":-1.9},{"t":7,"x":1,"y":-1.7},{"t":7,"x":0.3,"y":-1.2},
{"t":8,"x":-0.89,"y":-1.49},{"t":8,"x":-2.36,"y":-0.31},{"t":8,"x":0.9,"y":-0.9},{"t":8,"x":-1.7,"y":-0.8},{"t":8,"x":1.2,"y":-0.3},{"t":8,"x":-1.3,"y":-1.3},{"t":8,"x":0.9,"y":-0.62},{"t":8,"x":-1.4,"y":-0.1},{"t":8,"x":0.7,"y":-1.4},{"t":8,"x":-0.9,"y":-0.6},{"t":8,"x":0.8,"y":-0.1},{"t":8,"x":-0.5,"y":-1.4},{"t":8,"x":0.5,"y":-1},{"t":8,"x":-1.1,"y":-0.3},{"t":8,"x":0.4,"y":-0.3},{"t":8,"x":-0.8,"y":-1.1},{"t":8,"x":0.2,"y":-0.7},{"t":8,"x":-0.6,"y":-0.2},{"t":8,"x":0.1,"y":-1.2},{"t":8,"x":-0.3,"y":-0.5},{"t":8,"x":0,"y":0},
{"t":9,"x":0.31,"y":-1.49},{"t":9,"x":1.2,"y":-1.1},{"t":9,"x":-0.2,"y":-0.8},
{"t":10,"x":0.9,"y":-0.62},{"t":10,"x":0.1,"y":-0.4},
{"t":11,"x":-3.25,"y":-1.2},{"t":11,"x":-2.2,"y":-1},
{"t":12,"x":-0.2,"y":-0.7},{"t":12,"x":-1.5,"y":-1.1},{"t":12,"x":1,"y":-0.3},{"t":12,"x":-1.1,"y":-0.6},{"t":12,"x":0.6,"y":-1.5},{"t":12,"x":-1.6,"y":-0.4},{"t":12,"x":0.8,"y":-0.9},{"t":12,"x":-0.8,"y":-1.5},{"t":12,"x":0.3,"y":-0.2},{"t":12,"x":-1.3,"y":-0.9},{"t":12,"x":0.4,"y":-1.3},{"t":12,"x":-0.5,"y":-0.3},{"t":12,"x":0.9,"y":-1.2},{"t":12,"x":-1,"y":-1.2},{"t":12,"x":0.5,"y":-0.5},{"t":12,"x":-0.7,"y":-0.8},{"t":12,"x":0,"y":-1.5},{"t":12,"x":-0.9,"y":-0.2},{"t":12,"x":0.2,"y":-1},{"t":12,"x":-0.4,"y":-1.2},{"t":12,"x":0.6,"y":-0.8},{"t":12,"x":-0.6,"y":-0.5},{"t":12,"x":0.1,"y":-0.6},{"t":12,"x":-0.2,"y":-1},{"t":12,"x":0,"y":0}],
"En":[{"t":1,"x":-0.57,"y":2.65},{"t":1,"x":0.1,"y":2.65},{"t":1,"x":0,"y":2.9},{"t":1,"x":0.55,"y":2.65},{"t":1,"x":-0.3,"y":2.2},{"t":1,"x":-0.6,"y":1.6},{"t":1,"x":-0.9,"y":1.6},{"t":1,"x":-0.1,"y":1.5},{"t":1,"x":-0.4,"y":1},{"t":1,"x":0.5,"y":0.9},{"t":1,"x":-0.2,"y":0.5},
{"t":2,"x":-1.77,"y":2.07},{"t":2,"x":-1.6,"y":1.5},{"t":2,"x":-1.3,"y":1.5},{"t":2,"x":-0.8,"y":1.3},{"t":2,"x":0,"y":1.7},{"t":2,"x":0.5,"y":1},{"t":2,"x":-0.5,"y":0.9},{"t":2,"x":0.8,"y":0.7},{"t":2,"x":0,"y":0.4},
{"t":3,"x":-2.94,"y":0.29},{"t":3,"x":-2.3,"y":0.5},{"t":3,"x":-3.1,"y":0.85},{"t":3,"x":-2.1,"y":0.85},{"t":3,"x":-2.9,"y":0.8},{"t":3,"x":-1.9,"y":0.3},{"t":3,"x":-1,"y":0.5},
{"t":4,"x":-2.05,"y":0.56},{"t":4,"x":-1.7,"y":0.1},{"t":4,"x":0.7,"y":0.55},{"t":4,"x":-1.5,"y":0.5},{"t":4,"x":0.9,"y":0.4},{"t":4,"x":-1.2,"y":-0.2},{"t":4,"x":1.1,"y":0.5},{"t":4,"x":-0.9,"y":0.87},{"t":4,"x":0.7,"y":0.1},{"t":4,"x":-1.4,"y":0.2},{"t":4,"x":0.4,"y":0.7},{"t":4,"x":-0.8,"y":-0.6},{"t":4,"x":1,"y":-0.2},{"t":4,"x":-1.2,"y":-1.1},{"t":4,"x":0.7,"y":-0.8},{"t":4,"x":-1,"y":0.3},{"t":4,"x":0.3,"y":-1},{"t":4,"x":-0.6,"y":0.5},{"t":4,"x":0.8,"y":-0.4},{"t":4,"x":-0.9,"y":-0.8},{"t":4,"x":0.5,"y":0.2},{"t":4,"x":-0.7,"y":-1.2},{"t":4,"x":0.3,"y":0.5},{"t":4,"x":-0.4,"y":-0.3},{"t":4,"x":0.6,"y":-0.1},{"t":4,"x":-0.5,"y":0.2},{"t":4,"x":0,"y":0},
{"t":5,"x":-0.9,"y":0.87},{"t":5,"x":-0.2,"y":0.7},{"t":5,"x":-0.7,"y":0.2},
{"t":6,"x":-0.3,"y":0.56},{"t":6,"x":0.3,"y":0.2},
{"t":7,"x":1.18,"y":0.02},{"t":7,"x":0.7,"y":0.3},{"t":7,"x":0.9,"y":-0.3},
{"t":8,"x":0.9,"y":0.29},{"t":8,"x":0.3,"y":0.6},
{"t":9,"x":-1.5,"y":0.02},{"t":9,"x":-0.9,"y":-0.2},
{"t":10,"x":-0.2,"y":0.1},{"t":10,"x":-1.4,"y":0.5},{"t":10,"x":1,"y":0.3},{"t":10,"x":-1.1,"y":-0.4},{"t":10,"x":0.6,"y":0.7},{"t":10,"x":-1,"y":-0.9},{"t":10,"x":0.9,"y":-0.5},{"t":10,"x":-0.7,"y":0.8},{"t":10,"x":0.2,"y":-1},{"t":10,"x":-1.2,"y":0.1},{"t":10,"x":0.8,"y":0.1},{"t":10,"x":-0.5,"y":-0.7},{"t":10,"x":0.4,"y":0.8},{"t":10,"x":-0.8,"y":0.3},{"t":10,"x":0.6,"y":-0.7},{"t":10,"x":-0.3,"y":0.6},{"t":10,"x":-0.6,"y":-0.3},{"t":10,"x":0.5,"y":0.4},{"t":10,"x":-0.1,"y":-0.6},{"t":10,"x":-0.4,"y":0.3},{"t":10,"x":0.3,"y":-0.2},{"t":10,"x":-0.2,"y":0.4},{"t":10,"x":0,"y":0}],
"Fd":[{"t":1,"x":-1.81,"y":-2.15},{"t":1,"x":-1.5,"y":-2.4},{"t":1,"x":-1.75,"y":-1.9},{"t":1,"x":-1.1,"y":-1.4},{"t":1,"x":-0.8,"y":-1.25},{"t":1,"x":-0.5,"y":-0.9},{"t":1,"x":-0.2,"y":-0.2},
{"t":2,"x":-0.61,"y":-3.05},{"t":2,"x":-0.9,"y":-2.8},{"t":2,"x":-0.8,"y":-2.6},{"t":2,"x":-1.3,"y":-2.75},{"t":2,"x":-0.6,"y":-2.55},{"t":2,"x":-0.5,"y":-2.1},{"t":2,"x":-1,"y":-2.2},{"t":2,"x":-0.4,"y":-1.9},{"t":2,"x":-1,"y":-1.95},{"t":2,"x":-0.4,"y":-1.7},{"t":2,"x":-0.85,"y":-1.6},{"t":2,"x":-0.2,"y":-1.7},{"t":2,"x":-0.4,"y":-1.2},
{"t":3,"x":-0.45,"y":-1.23},{"t":3,"x":2.12,"y":-1.39},{"t":3,"x":0.6,"y":-1},{"t":3,"x":2.56,"y":-0.76},{"t":3,"x":0.7,"y":-0.6},{"t":3,"x":2,"y":-0.65},{"t":3,"x":0.4,"y":-0.3},{"t":3,"x":1.2,"y":-0.9},{"t":3,"x":0.6,"y":-1.55},{"t":3,"x":0,"y":-1.4},{"t":3,"x":0.4,"y":-0.8},
{"t":4,"x":-0.17,"y":-1.1},{"t":4,"x":0.47,"y":2.51},{"t":4,"x":0.45,"y":2.2},{"t":4,"x":-0.31,"y":1.68},{"t":4,"x":0.6,"y":2.1},{"t":4,"x":0.3,"y":1.6},{"t":4,"x":1.38,"y":1.68},{"t":4,"x":0.6,"y":1},{"t":4,"x":-1.4,"y":0.1},
{"t":5,"x":0.3,"y":-0.7},{"t":5,"x":-0.7,"y":-0.2},{"t":5,"x":0.8,"y":-0.2},{"t":5,"x":-0.6,"y":-0.7},{"t":5,"x":0.6,"y":-0.4},{"t":5,"x":-0.7,"y":0.1},{"t":5,"x":0.5,"y":-0.9},{"t":5,"x":-0.4,"y":-0.4},{"t":5,"x":0.9,"y":-0.6},{"t":5,"x":-0.5,"y":-0.9},{"t":5,"x":0.3,"y":-0.1},{"t":5,"x":-0.3,"y":-0.8},{"t":5,"x":0.5,"y":-0.3},{"t":5,"x":-0.2,"y":-0.1},{"t":5,"x":0.1,"y":-0.9},{"t":5,"x":0.4,"y":-0.6},{"t":5,"x":-0.4,"y":-0.1},{"t":5,"x":0.2,"y":-0.5},{"t":5,"x":-0.1,"y":-0.6},{"t":5,"x":0.2,"y":-0.2},{"t":5,"x":0,"y":-0.5},{"t":5,"x":-0.3,"y":-0.3},{"t":5,"x":0.1,"y":-0.3},{"t":5,"x":0,"y":0},
{"t":6,"x":0,"y":-0.4},{"t":6,"x":-0.8,"y":-0.5},{"t":6,"x":0.7,"y":-0.9},{"t":6,"x":-0.5,"y":-0.2},{"t":6,"x":0.4,"y":-1},{"t":6,"x":-0.7,"y":-0.9},{"t":6,"x":0.7,"y":-0.3},{"t":6,"x":-0.2,"y":-1},{"t":6,"x":0.5,"y":-0.1},{"t":6,"x":-0.6,"y":-0.6},{"t":6,"x":0.3,"y":-0.8},{"t":6,"x":-0.3,"y":-0.1},{"t":6,"x":0.6,"y":-0.6},{"t":6,"x":-0.4,"y":-0.7},{"t":6,"x":0.2,"y":-0.2},{"t":6,"x":-0.1,"y":-0.8},{"t":6,"x":0.4,"y":-0.4},{"t":6,"x":-0.3,"y":-0.5},{"t":6,"x":0.1,"y":-0.6},{"t":6,"x":0,"y":0}],
"Fn":[{"t":1,"x":2.73,"y":3.92},{"t":1,"x":3.01,"y":3.78},{"t":1,"x":2.7,"y":4.1},{"t":1,"x":2.4,"y":3.75},{"t":1,"x":1.3,"y":3.55},{"t":1,"x":1.1,"y":3.41},{"t":1,"x":0.96,"y":2.93},{"t":1,"x":1.36,"y":2.86},{"t":1,"x":0.47,"y":2.76},{"t":1,"x":0.11,"y":2.58},{"t":1,"x":-0.45,"y":2.41},{"t":1,"x":0.2,"y":2.4},{"t":1,"x":0.5,"y":1.9},{"t":1,"x":0.2,"y":1},
{"t":2,"x":-1.98,"y":0.75},{"t":2,"x":-1.4,"y":1.3},{"t":2,"x":-1.8,"y":1.35},{"t":2,"x":-1.25,"y":1.85},{"t":2,"x":-1.4,"y":1.25},{"t":2,"x":-0.9,"y":1.6},{"t":2,"x":-0.8,"y":1.1},{"t":2,"x":-1.2,"y":0.9},{"t":2,"x":-1.3,"y":0.5},{"t":2,"x":-1.05,"y":0.3},{"t":2,"x":-0.2,"y":0.8},
{"t":3,"x":-1.37,"y":1.2},{"t":3,"x":-0.4,"y":1.1},{"t":3,"x":-0.1,"y":0.9},{"t":3,"x":0.6,"y":1.2},
{"t":4,"x":-1.23,"y":0.9},{"t":4,"x":0.1,"y":0.7},{"t":4,"x":-0.9,"y":0.3},
{"t":5,"x":1.5,"y":1.35},{"t":5,"x":0.8,"y":1.4},{"t":5,"x":1.1,"y":0.7},{"t":5,"x":3.01,"y":1.2},{"t":5,"x":0.9,"y":0.7},{"t":5,"x":2.23,"y":0.3},{"t":5,"x":0.3,"y":0.5},{"t":5,"x":1.8,"y":0.95},{"t":5,"x":-0.5,"y":0.2},{"t":5,"x":1.4,"y":0.5},{"t":5,"x":-0.7,"y":0.6},{"t":5,"x":1.1,"y":1},{"t":5,"x":-0.4,"y":0.05},{"t":5,"x":1.2,"y":0.2},{"t":5,"x":-0.5,"y":0.9},{"t":5,"x":0.9,"y":0.1},{"t":5,"x":-0.2,"y":1.1},{"t":5,"x":0.7,"y":0.4},{"t":5,"x":-0.6,"y":0.4},{"t":5,"x":0.5,"y":1},{"t":5,"x":-0.1,"y":0.1},{"t":5,"x":0.8,"y":0.8},{"t":5,"x":-0.3,"y":0.5},{"t":5,"x":0.6,"y":0.05},{"t":5,"x":0,"y":0.9},{"t":5,"x":0.4,"y":0.2},{"t":5,"x":-0.3,"y":0.8},{"t":5,"x":0.5,"y":0.6},{"t":5,"x":-0.2,"y":0.2},{"t":5,"x":0.3,"y":0.8},{"t":5,"x":0.1,"y":0.3},{"t":5,"x":0.2,"y":0.6},{"t":5,"x":0,"y":0.4},{"t":5,"x":0.3,"y":0.1},{"t":5,"x":-0.1,"y":0.6},{"t":5,"x":0,"y":0},
{"t":6,"x":0.3,"y":1.66},{"t":6,"x":0.4,"y":1.1},{"t":6,"x":0.05,"y":0.7},
{"t":7,"x":0.44,"y":1.2},{"t":7,"x":0.9,"y":0.9},{"t":7,"x":0.2,"y":0.5},
{"t":8,"x":-0.73,"y":0.44},{"t":8,"x":-0.1,"y":0.3},
{"t":9,"x":1.67,"y":0.44},{"t":9,"x":0.8,"y":0.5},
{"t":10,"x":0.96,"y":0.58},{"t":10,"x":0.4,"y":0.3},
{"t":11,"x":0.3,"y":0.45},{"t":11,"x":-0.5,"y":0.7},{"t":11,"x":1,"y":0.3},{"t":11,"x":-0.3,"y":0},{"t":11,"x":0.8,"y":1},{"t":11,"x":-0.4,"y":0.4},{"t":11,"x":0.9,"y":-0.1},{"t":11,"x":-0.1,"y":1},{"t":11,"x":0.6,"y":0.2},{"t":11,"x":-0.5,"y":0.1},{"t":11,"x":0.7,"y":0.7},{"t":11,"x":0,"y":0.1},{"t":11,"x":0.4,"y":1},{"t":11,"x":-0.2,"y":0.5},{"t":11,"x":0.9,"y":0.5},{"t":11,"x":0.2,"y":-0.1},{"t":11,"x":0.3,"y":0.9},{"t":11,"x":-0.3,"y":0.2},{"t":11,"x":0.7,"y":0.3},{"t":11,"x":0,"y":0.7},{"t":11,"x":0.5,"y":0.1},{"t":11,"x":0.1,"y":0.5},{"t":11,"x":0.5,"y":0.8},{"t":11,"x":-0.1,"y":0.3},{"t":11,"x":0.6,"y":0.5},{"t":11,"x":0.2,"y":0.2},{"t":11,"x":0.3,"y":0.6},{"t":11,"x":0,"y":0}]},
"concat":[
{"width":1,"height":34,"data":{"values":[]},"mark":"rule","encoding":{}},
{"width":1,"height":34,"data":{"values":[]},"mark":"rule","encoding":{}},
{"width":1,"height":34,"data":{"values":[]},"mark":"rule","encoding":{}},
{"width":1,"height":34,"data":{"values":[]},"mark":"rule","encoding":{}},
{"width":1,"height":34,"data":{"values":[]},"mark":"rule","encoding":{}},
{"width":1,"height":34,"data":{"values":[]},"mark":"rule","encoding":{}},
{"width":52,"height":1,"data":{"values":[]},"mark":"rule","encoding":{}},
{"width":240,"height":244,
"encoding":{"x":{"field":"x","type":"quantitative","scale":{"domain":[-14.6,14.6],"range":[0,240]},"axis":{"values":[-14.6,14.6],"format":".1f","title":"µ m","labelOffset":-6,"titleX":118}},"y":{"field":"y","type":"quantitative","scale":{"domain":[-14.6,14.6],"range":[244,0]},"axis":{"values":[14.6],"format":".1f","title":"µ m","titleX":-7,"titleY":122}}},
"layer":[
{"data":{"values":[{"x":0,"y":-14.6,"x2":0,"y2":14.6},{"x":-14.6,"y":0,"x2":14.6,"y2":0},{"x":-14.6,"y":14.6,"x2":14.6,"y2":14.6},{"x":-14.6,"y":-14.6,"x2":14.6,"y2":-14.6},{"x":-14.6,"y":-14.6,"x2":-14.6,"y2":14.6},{"x":14.6,"y":-14.6,"x2":14.6,"y2":14.6}]},"mark":"rule","encoding":{"x2":{"field":"x2"},"y2":{"field":"y2"}}},
{"data":{"name":"Ad"},"mark":{"type":"line","stroke":"#e0161c"},"encoding":{"detail":{"field":"t"},"order":{"value":null}}},
{"data":{"name":"An"},"mark":{"type":"line","stroke":"#111"},"encoding":{"detail":{"field":"t"},"order":{"value":null}}},
{"data":{"name":"Ad"},"transform":[{"window":[{"op":"row_number","as":"n"}],"groupby":["t"]},{"filter":"datum.n==1"}],"mark":{"type":"point","color":"#f00"}},
{"data":{"name":"An"},"transform":[{"window":[{"op":"row_number","as":"n"}],"groupby":["t"]},{"filter":"datum.n==1"}],"mark":{"type":"point","color":"#000"}},
{"data":{"values":[{"x":-2.9,"y":16.2,"s":"IKKβ"},{"x":-0.5,"y":17.4,"s":"f/f"},{"x":2.3,"y":16.2,"s":":CreER"},{"x":6,"y":17.1,"s":"T1"}]},"mark":"text","encoding":{"text":{"field":"s"}}},
{"data":{"values":[{"x":-2.3,"y":13.2,"s":"Non directional tracks: 5"}]},"mark":{"type":"text","fontSize":13},"encoding":{"text":{"field":"s"}}},
{"data":{"values":[{"x":-0.4,"y":-13.3,"s":"Directional tracks: 29"}]},"mark":{"type":"text","color":"#f00","fontSize":13},"encoding":{"text":{"field":"s"}}},
{"data":{"values":[{"x":-19.2,"y":16.8,"s":"A"}]},"mark":{"type":"text","fontSize":21,"fontWeight":"normal"},"encoding":{"text":{"field":"s"}}}]},
{"width":66,"height":1,"data":{"values":[]},"mark":"rule","encoding":{}},
{"width":240,"height":244,
"encoding":{"x":{"field":"x","type":"quantitative","scale":{"domain":[-5.6,5.6],"range":[0,240]},"axis":{"values":[-5.6,5.6],"format":".1f","title":"µm","labelOffset":-4,"titleX":119}},"y":{"field":"y","type":"quantitative","scale":{"domain":[-5.6,5.6],"range":[244,3]},"axis":{"values":[5.6],"format":".1f","title":"µ m","titleX":-8,"titleY":119,"labelPadding":9}}},
"layer":[
{"data":{"values":[{"x":0,"y":-5.6,"x2":0,"y2":5.6},{"x":-5.6,"y":0,"x2":5.6,"y2":0},{"x":-5.6,"y":5.6,"x2":5.6,"y2":5.6},{"x":-5.6,"y":-5.6,"x2":5.6,"y2":-5.6},{"x":-5.6,"y":-5.6,"x2":-5.6,"y2":5.6},{"x":5.6,"y":-5.6,"x2":5.6,"y2":5.6}]},"mark":"rule","encoding":{"x2":{"field":"x2"},"y2":{"field":"y2"}}},
{"data":{"name":"Bd"},"mark":{"type":"line","stroke":"#e0161c"},"encoding":{"detail":{"field":"t"},"order":{"value":null}}},
{"data":{"name":"Bn"},"mark":{"type":"line","stroke":"#111"},"encoding":{"detail":{"field":"t"},"order":{"value":null}}},
{"data":{"name":"Bd"},"transform":[{"window":[{"op":"row_number","as":"n"}],"groupby":["t"]},{"filter":"datum.n==1"}],"mark":{"type":"point","color":"#f00"}},
{"data":{"name":"Bn"},"transform":[{"window":[{"op":"row_number","as":"n"}],"groupby":["t"]},{"filter":"datum.n==1"}],"mark":{"type":"point","color":"#000"}},
{"data":{"values":[{"x":-7.14,"y":3.46,"x2":-7.14,"y2":-4.2}]},"mark":{"type":"rule","stroke":"#222","strokeWidth":1.5},"encoding":{"x2":{"field":"x2"},"y2":{"field":"y2"}}},
{"data":{"values":[{"x":-7.14,"y":-4.05}]},"mark":{"type":"point","shape":"M-1,-1L0,1L1,-1","filled":false,"size":50,"stroke":"#222","strokeWidth":1}},
{"data":{"values":[{"x":-7.7,"y":-0.67,"s":"HMGB1 gradient"}]},"mark":{"type":"text","angle":270,"fontWeight":"normal","fontSize":13,"color":"#333"},"encoding":{"text":{"field":"s"}}},
{"data":{"values":[{"x":-2.7,"y":6.1,"s":"IKKβ"},{"x":-1.9,"y":6.6,"s":"f/f"},{"x":-0.75,"y":6.1,"s":":CreER"},{"x":0.47,"y":6.6,"s":"T1"},{"x":1.9,"y":6.1,"s":"+ 4-OHT"}]},"mark":"text","encoding":{"text":{"field":"s"}}},
{"data":{"values":[{"x":-0.7,"y":5.1,"s":"Non directional tracks: 17"}]},"mark":{"type":"text","fontSize":13},"encoding":{"text":{"field":"s"}}},
{"data":{"values":[{"x":-0.23,"y":-5.18,"s":"Directional tracks: 20"}]},"mark":{"type":"text","color":"#f00","fontSize":13},"encoding":{"text":{"field":"s"}}},
{"data":{"values":[{"x":-6.9,"y":6.6,"s":"B"}]},"mark":{"type":"text","fontSize":21,"fontWeight":"normal"},"encoding":{"text":{"field":"s"}}}]},
{"width":53,"height":1,"data":{"values":[]},"mark":"rule","encoding":{}},
{"width":110,"height":235,"data":{"values":[{"g":"WT","c":"Directional Tracks (%)","v":82},{"g":"WT","c":"Non-directional Tracks (%)","v":18},{"g":"IKKβ","c":"Directional Tracks (%)","v":53},{"g":"IKKβ","c":"Non-directional Tracks (%)","v":47}]},
"layer":[{"mark":{"type":"bar","stroke":"#000","strokeWidth":1.5},"encoding":{"x":{"field":"g","type":"nominal","sort":null,"scale":{"range":[0,110],"paddingInner":0.3,"paddingOuter":0.1,"align":0.8}},"y":{"field":"v","type":"quantitative","stack":"zero","scale":{"domain":[0,100],"range":[235,66]},"axis":{"values":[0,50,100],"grid":false,"domain":true,"ticks":true,"domainWidth":2,"domainColor":"#000","tickWidth":2,"tickColor":"#000","tickSize":5,"labelFontWeight":"normal","labelFontSize":12,"labelColor":"#222","labelPadding":3,"title":"% of Total Tracks","titleFontSize":13,"titleX":-30,"titleY":160}},"color":{"field":"c","type":"nominal","scale":{"domain":["Directional Tracks (%)","Non-directional Tracks (%)"],"range":["#f00","#000"]},"legend":{"title":null,"orient":"none","legendX":612.5,"legendY":45.5,"symbolType":"M-1.73,-1H1.73V1H-1.73Z","symbolSize":225,"symbolStrokeColor":"#000","symbolStrokeWidth":1.5,"symbolOpacity":1,"labelFontSize":13,"labelColor":"#333","labelFont":"Liberation Sans","labelOffset":8.5,"rowPadding":0}},"order":{"field":"c","sort":"ascending"}}},
{"data":{"values":[{"s":"-/-"}]},"mark":{"type":"text","fontWeight":"normal","fontSize":12,"color":"#222","dx":21,"dy":8},"encoding":{"x":{"datum":"IKKβ","type":"nominal"},"y":{"datum":0,"type":"quantitative"},"text":{"field":"s"}}}]},
{"width":1,"height":70,"data":{"values":[]},"mark":"rule","encoding":{}},
{"width":1,"height":70,"data":{"values":[]},"mark":"rule","encoding":{}},
{"width":1,"height":70,"data":{"values":[]},"mark":"rule","encoding":{}},
{"width":1,"height":70,"data":{"values":[]},"mark":"rule","encoding":{}},
{"width":1,"height":70,"data":{"values":[]},"mark":"rule","encoding":{}},
{"width":1,"height":70,"data":{"values":[]},"mark":"rule","encoding":{}},
{"width":52,"height":1,"data":{"values":[]},"mark":"rule","encoding":{}},
{"width":244,"height":246,
"encoding":{"x":{"field":"x","type":"quantitative","scale":{"domain":[-13.7,13.7],"range":[3,244]},"axis":{"values":[-13.7,13.7],"format":".1f","title":"µ m","labelOffset":-7,"titleX":122}},"y":{"field":"y","type":"quantitative","scale":{"domain":[-13.7,13.7],"range":[246,2]},"axis":{"values":[13.7],"format":".1f","title":"µ m","titleX":-4,"titleY":121}}},
"layer":[
{"data":{"values":[{"x":0,"y":-13.7,"x2":0,"y2":13.7},{"x":-13.7,"y":0,"x2":13.7,"y2":0},{"x":-13.7,"y":13.7,"x2":13.7,"y2":13.7},{"x":-13.7,"y":-13.7,"x2":13.7,"y2":-13.7},{"x":-13.7,"y":-13.7,"x2":-13.7,"y2":13.7},{"x":13.7,"y":-13.7,"x2":13.7,"y2":13.7}]},"mark":"rule","encoding":{"x2":{"field":"x2"},"y2":{"field":"y2"}}},
{"data":{"name":"Cd"},"mark":{"type":"line","stroke":"#e0161c"},"encoding":{"detail":{"field":"t"},"order":{"value":null}}},
{"data":{"name":"Cn"},"mark":{"type":"line","stroke":"#111"},"encoding":{"detail":{"field":"t"},"order":{"value":null}}},
{"data":{"name":"Cd"},"transform":[{"window":[{"op":"row_number","as":"n"}],"groupby":["t"]},{"filter":"datum.n==1"}],"mark":{"type":"point","color":"#f00"}},
{"data":{"name":"Cn"},"transform":[{"window":[{"op":"row_number","as":"n"}],"groupby":["t"]},{"filter":"datum.n==1"}],"mark":{"type":"point","color":"#000"}},
{"data":{"values":[{"x":-3.2,"y":15.3,"s":"IKKα"},{"x":-1.2,"y":16.4,"s":"f/f"},{"x":1.8,"y":15.3,"s":":CreER"},{"x":5.1,"y":16.1,"s":"T2"}]},"mark":"text","encoding":{"text":{"field":"s"}}},
{"data":{"values":[{"x":-2,"y":12.2,"s":"Non directional tracks: 10"}]},"mark":{"type":"text","fontSize":13},"encoding":{"text":{"field":"s"}}},
{"data":{"values":[{"x":-0.3,"y":-12.9,"s":"Directional tracks: 29"}]},"mark":{"type":"text","color":"#f00","fontSize":13},"encoding":{"text":{"field":"s"}}},
{"data":{"values":[{"x":-18.5,"y":15.7,"s":"C"}]},"mark":{"type":"text","fontSize":21,"fontWeight":"normal"},"encoding":{"text":{"field":"s"}}}]},
{"width":66,"height":1,"data":{"values":[]},"mark":"rule","encoding":{}},
{"width":241,"height":248,
"encoding":{"x":{"field":"x","type":"quantitative","scale":{"domain":[-9.8,9.8],"range":[2,241]},"axis":{"values":[-9.8,9.8],"format":".1f","title":"µm","labelOffset":-5,"titleX":125,"titleY":10}},"y":{"field":"y","type":"quantitative","scale":{"domain":[-9.8,9.8],"range":[248,5]},"axis":{"values":[9.8],"format":".1f","title":"µ m","titleX":-6,"titleY":125,"labelPadding":9}}},
"layer":[
{"data":{"values":[{"x":0,"y":-9.8,"x2":0,"y2":9.8},{"x":-9.8,"y":0,"x2":9.8,"y2":0},{"x":-9.8,"y":9.8,"x2":9.8,"y2":9.8},{"x":-9.8,"y":-9.8,"x2":9.8,"y2":-9.8},{"x":-9.8,"y":-9.8,"x2":-9.8,"y2":9.8},{"x":9.8,"y":-9.8,"x2":9.8,"y2":9.8}]},"mark":{"type":"rule","stroke":"#a0a0a0"},"encoding":{"x2":{"field":"x2"},"y2":{"field":"y2"}}},
{"data":{"name":"Dd"},"mark":{"type":"line","stroke":"#e0161c"},"encoding":{"detail":{"field":"t"},"order":{"value":null}}},
{"data":{"name":"Dn"},"mark":{"type":"line","stroke":"#111"},"encoding":{"detail":{"field":"t"},"order":{"value":null}}},
{"data":{"name":"Dd"},"transform":[{"window":[{"op":"row_number","as":"n"}],"groupby":["t"]},{"filter":"datum.n==1"}],"mark":{"type":"point","color":"#f00"}},
{"data":{"name":"Dn"},"transform":[{"window":[{"op":"row_number","as":"n"}],"groupby":["t"]},{"filter":"datum.n==1"}],"mark":{"type":"point","color":"#000"}},
{"data":{"values":[{"x":-12.59,"y":5.45,"x2":-12.59,"y2":-7.87}]},"mark":{"type":"rule","stroke":"#222","strokeWidth":1.5},"encoding":{"x2":{"field":"x2"},"y2":{"field":"y2"}}},
{"data":{"values":[{"x":-12.59,"y":-7.6}]},"mark":{"type":"point","shape":"M-1,-1L0,1L1,-1","filled":false,"size":50,"stroke":"#222","strokeWidth":1}},
{"data":{"values":[{"x":-13.57,"y":-1.9,"s":"HMGB1 gradient"}]},"mark":{"type":"text","angle":270,"fontWeight":"normal","fontSize":13,"color":"#333"},"encoding":{"text":{"field":"s"}}},
{"data":{"values":[{"x":-4.35,"y":11.05,"s":"IKKα"},{"x":-2.95,"y":11.94,"s":"f/f"},{"x":-0.9,"y":11.05,"s":":CreER"},{"x":1,"y":11.94,"s":"T2"},{"x":4,"y":11.05,"s":"+ 4-OHT"}]},"mark":"text","encoding":{"text":{"field":"s"}}},
{"data":{"values":[{"x":0.25,"y":8.96,"s":"Non directional tracks: 20"}]},"mark":{"type":"text","fontSize":13},"encoding":{"text":{"field":"s"}}},
{"data":{"values":[{"x":0,"y":-9,"s":"Directional tracks: 18"}]},"mark":{"type":"text","color":"#f00","fontSize":13},"encoding":{"text":{"field":"s"}}},
{"data":{"values":[{"x":-12.2,"y":11.7,"s":"D"}]},"mark":{"type":"text","fontSize":21,"fontWeight":"normal"},"encoding":{"text":{"field":"s"}}}]},
{"width":53,"height":1,"data":{"values":[]},"mark":"rule","encoding":{}},
{"width":110,"height":177,"data":{"values":[{"g":"WT","c":"Directional Tracks (%)","v":73},{"g":"WT","c":"Non-directional Tracks (%)","v":27},{"g":"IKKα","c":"Directional Tracks (%)","v":46},{"g":"IKKα","c":"Non-directional Tracks (%)","v":54}]},
"layer":[{"mark":{"type":"bar","stroke":"#000","strokeWidth":1.5},"encoding":{"x":{"field":"g","type":"nominal","sort":null,"scale":{"range":[0,110],"paddingInner":0.3,"paddingOuter":0.1,"align":0.8}},"y":{"field":"v","type":"quantitative","stack":"zero","scale":{"domain":[0,100],"range":[177,10]},"axis":{"values":[0,50,100],"grid":false,"domain":true,"ticks":true,"domainWidth":2,"domainColor":"#000","tickWidth":2,"tickColor":"#000","tickSize":5,"labelFontWeight":"normal","labelFontSize":12,"labelColor":"#222","labelPadding":3,"title":"% of Total Tracks","titleFontSize":13,"titleX":-26,"titleY":100}},"color":{"field":"c","type":"nominal","scale":{"domain":["Directional Tracks (%)","Non-directional Tracks (%)"],"range":["#f00","#000"]},"legend":null},"order":{"field":"c","sort":"ascending"}}},
{"data":{"values":[{"s":"-/-"}]},"mark":{"type":"text","fontWeight":"normal","fontSize":12,"color":"#222","dx":24,"dy":7},"encoding":{"x":{"datum":"IKKα","type":"nominal"},"y":{"datum":0,"type":"quantitative"},"text":{"field":"s"}}}]},
{"width":1,"height":70,"data":{"values":[]},"mark":"rule","encoding":{}},
{"width":1,"height":70,"data":{"values":[]},"mark":"rule","encoding":{}},
{"width":1,"height":70,"data":{"values":[]},"mark":"rule","encoding":{}},
{"width":1,"height":70,"data":{"values":[]},"mark":"rule","encoding":{}},
{"width":1,"height":70,"data":{"values":[]},"mark":"rule","encoding":{}},
{"width":1,"height":70,"data":{"values":[]},"mark":"rule","encoding":{}},
{"width":52,"height":1,"data":{"values":[]},"mark":"rule","encoding":{}},
{"width":243,"height":238,
"encoding":{"x":{"field":"x","type":"quantitative","scale":{"domain":[-6.5,6.5],"range":[8,243]},"axis":{"values":[-6.5,6.5],"format":".1f","title":"µm","labelOffset":-4,"titleX":127,"titleY":12}},"y":{"field":"y","type":"quantitative","scale":{"domain":[-6.5,6.5],"range":[238,0]},"axis":{"values":[6.5],"format":".1f","title":"µm","titleX":-2,"titleY":121,"labelPadding":2}}},
"layer":[
{"data":{"values":[{"x":0,"y":-6.5,"x2":0,"y2":6.5},{"x":-6.5,"y":0,"x2":6.5,"y2":0},{"x":-6.5,"y":6.5,"x2":6.5,"y2":6.5},{"x":-6.5,"y":-6.5,"x2":6.5,"y2":-6.5},{"x":-6.5,"y":-6.5,"x2":-6.5,"y2":6.5},{"x":6.5,"y":-6.5,"x2":6.5,"y2":6.5}]},"mark":"rule","encoding":{"x2":{"field":"x2"},"y2":{"field":"y2"}}},
{"data":{"name":"En"},"mark":{"type":"line","stroke":"#111"},"encoding":{"detail":{"field":"t"},"order":{"value":null}}},
{"data":{"name":"Ed"},"mark":{"type":"line","stroke":"#e0161c"},"encoding":{"detail":{"field":"t"},"order":{"value":null}}},
{"data":{"name":"Ed"},"transform":[{"window":[{"op":"row_number","as":"n"}],"groupby":["t"]},{"filter":"datum.n==1"}],"mark":{"type":"point","color":"#f00"}},
{"data":{"name":"En"},"transform":[{"window":[{"op":"row_number","as":"n"}],"groupby":["t"]},{"filter":"datum.n==1"}],"mark":{"type":"point","color":"#000"}},
{"data":{"values":[{"x":-0.1,"y":7.26,"s":"WT"}]},"mark":"text","encoding":{"text":{"field":"s"}}},
{"data":{"values":[{"x":-0.28,"y":5.73,"s":"Non directional tracks: 10"}]},"mark":{"type":"text","fontSize":13},"encoding":{"text":{"field":"s"}}},
{"data":{"values":[{"x":-0.28,"y":-6.1,"s":"Directional tracks: 20"}]},"mark":{"type":"text","color":"#f00","fontSize":13},"encoding":{"text":{"field":"s"}}},
{"data":{"values":[{"x":-8.96,"y":7.53,"s":"E"}]},"mark":{"type":"text","fontSize":21,"fontWeight":"normal"},"encoding":{"text":{"field":"s"}}}]},
{"width":66,"height":1,"data":{"values":[]},"mark":"rule","encoding":{}},
{"width":243,"height":242,
"encoding":{"x":{"field":"x","type":"quantitative","scale":{"domain":[-5,5],"range":[7,243]},"axis":{"values":[-5,5],"format":"d","title":"µm","labelOffset":-3,"titleX":126,"titleY":9}},"y":{"field":"y","type":"quantitative","scale":{"domain":[-5,5],"range":[242,1]},"axis":{"values":[5],"format":"d","title":"µm","titleX":-3,"titleY":117,"labelPadding":3}}},
"layer":[
{"data":{"values":[{"x":0,"y":-5,"x2":0,"y2":5},{"x":-5,"y":0,"x2":5,"y2":0},{"x":-5,"y":5,"x2":5,"y2":5},{"x":-5,"y":-5,"x2":5,"y2":-5},{"x":-5,"y":-5,"x2":-5,"y2":5},{"x":5,"y":-5,"x2":5,"y2":5}]},"mark":"rule","encoding":{"x2":{"field":"x2"},"y2":{"field":"y2"}}},
{"data":{"name":"Fd"},"mark":{"type":"line","stroke":"#e0161c"},"encoding":{"detail":{"field":"t"},"order":{"value":null}}},
{"data":{"name":"Fn"},"mark":{"type":"line","stroke":"#111"},"encoding":{"detail":{"field":"t"},"order":{"value":null}}},
{"data":{"name":"Fd"},"transform":[{"window":[{"op":"row_number","as":"n"}],"groupby":["t"]},{"filter":"datum.n==1"}],"mark":{"type":"point","color":"#f00"}},
{"data":{"name":"Fn"},"transform":[{"window":[{"op":"row_number","as":"n"}],"groupby":["t"]},{"filter":"datum.n==1"}],"mark":{"type":"point","color":"#000"}},
{"data":{"values":[{"x":-6.36,"y":3.55,"x2":-6.36,"y2":-3.13}]},"mark":{"type":"rule","stroke":"#222","strokeWidth":1.5},"encoding":{"x2":{"field":"x2"},"y2":{"field":"y2"}}},
{"data":{"values":[{"x":-6.36,"y":-3}]},"mark":{"type":"point","shape":"M-1,-1L0,1L1,-1","filled":false,"size":50,"stroke":"#222","strokeWidth":1}},
{"data":{"values":[{"x":-6.86,"y":-0.19,"s":"HMGB1 gradient"}]},"mark":{"type":"text","angle":270,"fontWeight":"normal","fontSize":13,"color":"#333"},"encoding":{"text":{"field":"s"}}},
{"data":{"values":[{"x":-0.08,"y":5.54,"s":"p100/p52"},{"x":1.27,"y":6,"s":"-/-"}]},"mark":"text","encoding":{"text":{"field":"s"}}},
{"data":{"values":[{"x":-0.68,"y":4.5,"s":"Non directional tracks: 21"}]},"mark":{"type":"text","fontSize":13},"encoding":{"text":{"field":"s"}}},
{"data":{"values":[{"x":-0.25,"y":-4.58,"s":"Directional tracks: 9"}]},"mark":{"type":"text","color":"#f00","fontSize":13},"encoding":{"text":{"field":"s"}}},
{"data":{"values":[{"x":-6.5,"y":5.83,"s":"F"}]},"mark":{"type":"text","fontSize":21,"fontWeight":"normal"},"encoding":{"text":{"field":"s"}}}]},
{"width":53,"height":1,"data":{"values":[]},"mark":"rule","encoding":{}},
{"width":120,"height":171,"data":{"values":[{"g":"WT","c":"Directional Tracks (%)","v":66},{"g":"WT","c":"Non-directional Tracks (%)","v":34},{"g":"p100/p52","c":"Directional Tracks (%)","v":29},{"g":"p100/p52","c":"Non-directional Tracks (%)","v":71}]},
"layer":[{"mark":{"type":"bar","stroke":"#000","strokeWidth":1.5},"encoding":{"x":{"field":"g","type":"nominal","sort":null,"scale":{"range":[10,120],"paddingInner":0.3,"paddingOuter":0.1,"align":0.8}},"y":{"field":"v","type":"quantitative","stack":"zero","scale":{"domain":[0,100],"range":[171,5]},"axis":{"values":[0,50,100],"offset":-10,"grid":false,"domain":true,"ticks":true,"domainWidth":2,"domainColor":"#000","tickWidth":2,"tickColor":"#000","tickSize":5,"labelFontWeight":"normal","labelFontSize":12,"labelColor":"#222","labelPadding":3,"title":"% of Total Tracks","titleFontSize":13,"titleX":-32,"titleY":97}},"color":{"field":"c","type":"nominal","scale":{"domain":["Directional Tracks (%)","Non-directional Tracks (%)"],"range":["#f00","#000"]},"legend":null},"order":{"field":"c","sort":"ascending"}}},
{"data":{"values":[{"s":"-/-"}]},"mark":{"type":"text","fontWeight":"normal","fontSize":12,"color":"#222","dx":34,"dy":6},"encoding":{"x":{"datum":"p100/p52","type":"nominal"},"y":{"datum":0,"type":"quantitative"},"text":{"field":"s"}}}]}
]}
